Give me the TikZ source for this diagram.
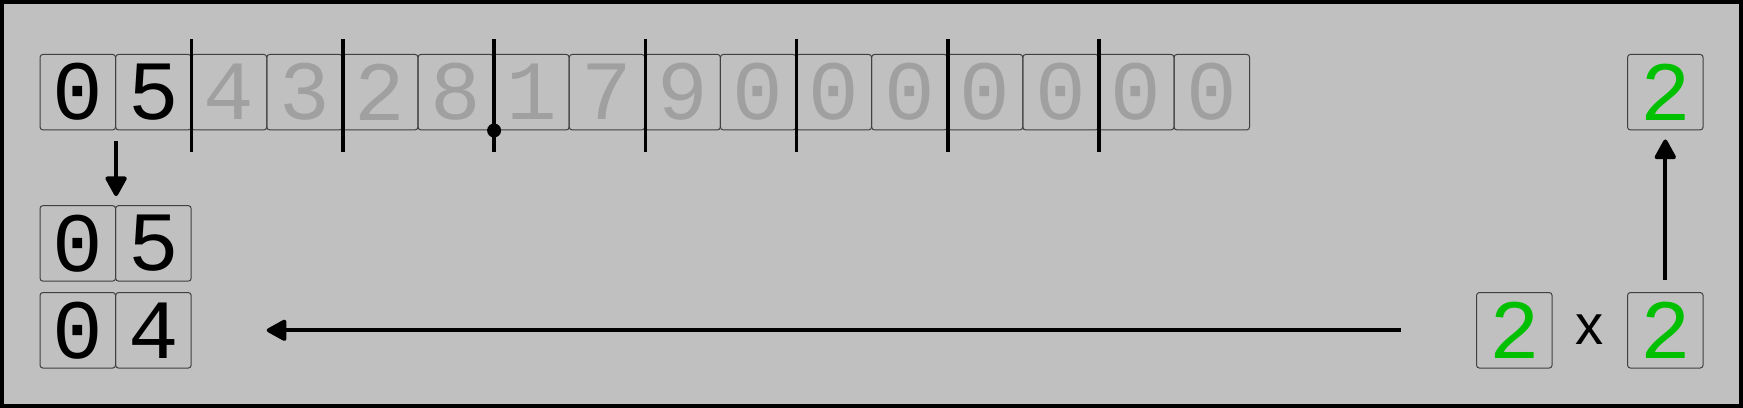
\documentclass[tikz,border=0pt]{standalone}
\usepackage{fontspec}
\setmainfont{Liberation Sans}
\setsansfont{Liberation Sans}
\setmonofont{Liberation Mono}
\usepackage{tikz}
\usetikzlibrary{arrows.meta}
\usetikzlibrary{calc}
\definecolor{panelgray}{RGB}{192,192,192}
\definecolor{fadedgray}{RGB}{160,160,160}
\definecolor{brightgreen}{RGB}{0,192,0}
\colorlet{cellline}{black!75}

\begin{document}
\begin{tikzpicture}[x=0.02cm,y=0.02cm,
	cell/.style={draw=cellline, line width=0.02cm, rounded corners=0.06cm, minimum size=1.512cm, inner sep=0pt, font=\fontsize{48}{48}\selectfont\ttfamily},
	divider/.style={line width=0.072cm},
	arr/.style={line width=0.08cm, -{Triangle[length=0.44cm,width=0.46cm,round]}}]
		\useasboundingbox (0,0) rectangle (1743,408);
		\draw[line width=0.08cm, fill=panelgray] (2,2) rectangle (1741,406);
		% number being divided
		\foreach \d [count=\i] in {0,5,4,3,2,8,1,7,9,0,0,0,0,0,0,0} {
			\ifnum\i<3 \def\c{black}\else\def\c{fadedgray}\fi
			\node[cell, text=\c] (t\i) at (2.2+75.6*\i, 315.8) {\d};
		}
		\foreach \k in {2,4,...,14}
			\draw[divider] ($(t\k.south east)+(0,-21.7)$) -- ($(t\k.north east)+(0,15)$);
		\fill (t6.south east) circle[radius=0.14cm];
		% current pair and subtraction
		\node[cell] (m1) at (77.8,164.6) {0};
		\node[cell] (m2) at (153.4,164.6) {5};
		\node[cell] (b1) at (77.8,77.7) {0};
		\node[cell] (b2) at (153.4,77.7) {4};
		% guess digit
		\node[cell, text=brightgreen] (q) at (1665.3,315.8) {2};
		\node[cell, text=brightgreen] (f1) at (1514.3,77.7) {2};
		\node[font=\fontsize{32}{32}\selectfont\sffamily] (times) at (1590,78.5) {x};
		\node[cell, text=brightgreen] (f2) at (1665.3,77.7) {2};
		\draw[arr] ($(t1.south east)+(0,-10.7)$) -- ($(m1.north east)+(0,9)$);
		\draw[arr] ($(f2.north)+(0,11.8)$) -- ($(q.south)+(0,-9)$);
		\draw[arr] ($(f1.west)+(-75,0)$) -- ($(b2.east)+(75,0)$);
\end{tikzpicture}
\end{document}
